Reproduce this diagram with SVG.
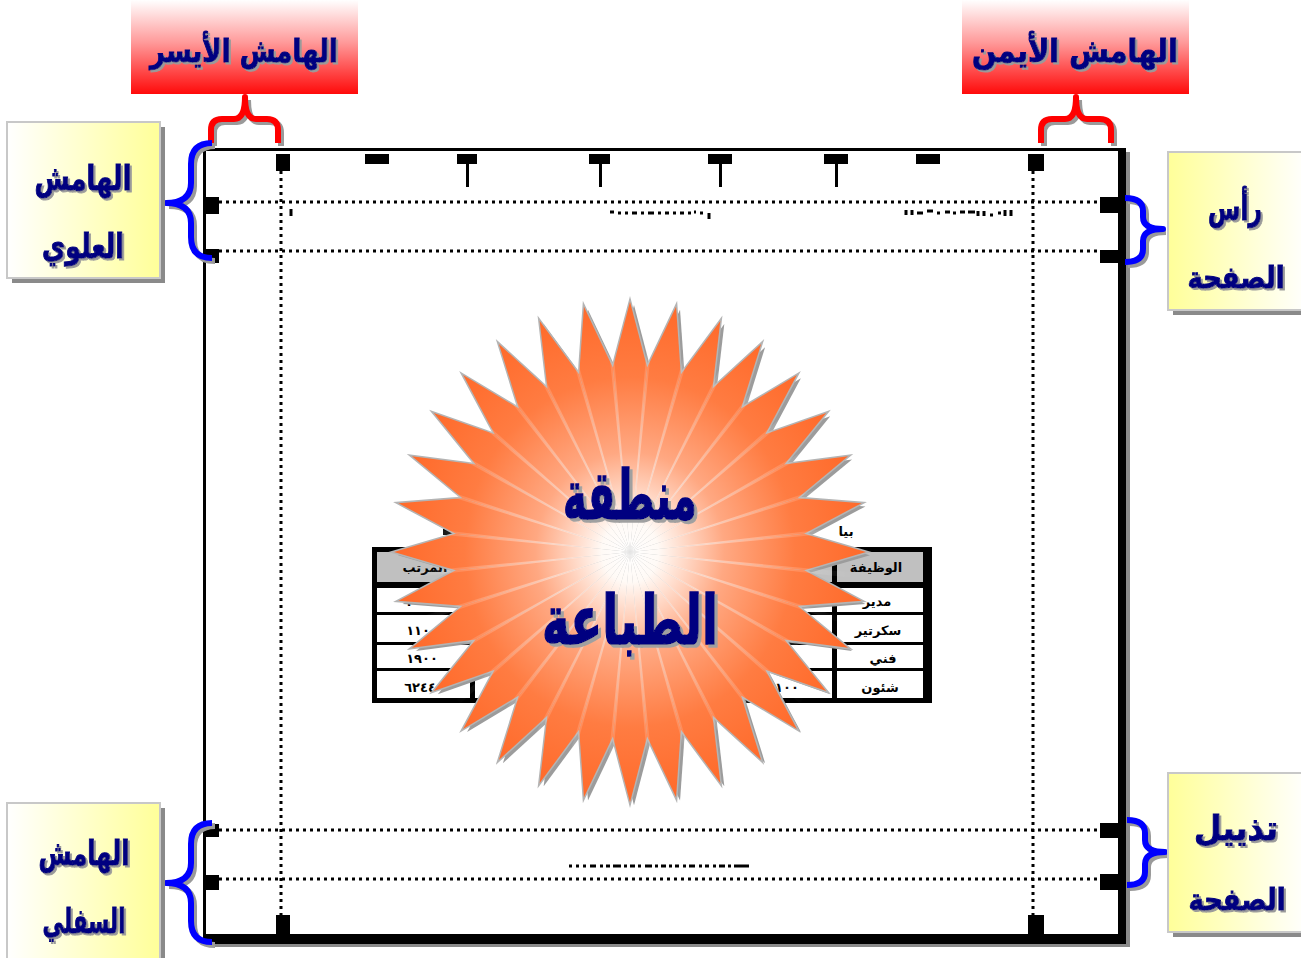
<svg xmlns="http://www.w3.org/2000/svg" xmlns:xlink="http://www.w3.org/1999/xlink" width="1301" height="958" viewBox="0 0 1301 958">
  <style>
    .lbl { font-family: "DejaVu Sans", sans-serif; font-weight: bold; text-anchor: middle; fill: #000080; stroke: #000080; stroke-width: 1; filter: url(#txtShadow); }
    .big { stroke-width: 1.6; filter: url(#bigShadow); }
    .box { stroke: #c8c8c8; stroke-width: 2; }
    .boxshadow { fill: #8a8a8a; }
    .dots { fill: none; stroke: #000; stroke-width: 3; stroke-dasharray: 3 4; }
    .frag { fill: none; stroke: #000; stroke-width: 3; }
    .mark { fill: #000; }
    .brace { fill: none; stroke-width: 6; stroke-linecap: butt; stroke-linejoin: round; }
    .brace-shadow { fill: none; stroke: #9a9a9a; stroke-width: 6; }
    .cell { font-family: "DejaVu Sans", sans-serif; font-weight: bold; font-size: 13px; fill: #000; text-anchor: middle; }
  </style>
  <defs>
    <filter id="txtShadow" x="-25%" y="-30%" width="150%" height="170%">
      <feOffset in="SourceAlpha" dx="2" dy="2" result="off"/>
      <feFlood flood-color="#9a9a9a"/>
      <feComposite in2="off" operator="in" result="shade"/>
      <feMerge><feMergeNode in="shade"/><feMergeNode in="SourceGraphic"/></feMerge>
    </filter>
    <filter id="bigShadow" x="-25%" y="-30%" width="150%" height="170%">
      <feOffset in="SourceAlpha" dx="3" dy="3" result="off"/>
      <feFlood flood-color="#a0a0a0"/>
      <feComposite in2="off" operator="in" result="shade"/>
      <feMerge><feMergeNode in="shade"/><feMergeNode in="SourceGraphic"/></feMerge>
    </filter>
    <linearGradient id="redFade" x1="0" y1="0" x2="0" y2="1">
      <stop offset="0" stop-color="#ffffff"/>
      <stop offset="0.45" stop-color="#ff9a9a"/>
      <stop offset="1" stop-color="#ff0a0a"/>
    </linearGradient>
    <linearGradient id="yellowR" x1="0" y1="0" x2="1" y2="0">
      <stop offset="0" stop-color="#ffffff"/>
      <stop offset="1" stop-color="#ffff99"/>
    </linearGradient>
    <linearGradient id="yellowL" x1="0" y1="0" x2="1" y2="0">
      <stop offset="0" stop-color="#ffff99"/>
      <stop offset="1" stop-color="#ffffff"/>
    </linearGradient>
    <radialGradient id="sunburst" gradientUnits="userSpaceOnUse" cx="0" cy="0" r="236">
      <stop offset="0" stop-color="#ffffff"/>
      <stop offset="0.12" stop-color="#fffaf6"/>
      <stop offset="0.4" stop-color="#ffa882"/>
      <stop offset="0.7" stop-color="#ff7c42"/>
      <stop offset="1" stop-color="#ff6a2a"/>
    </radialGradient>
    <radialGradient id="streakFade" gradientUnits="userSpaceOnUse" cx="0" cy="0" r="225">
      <stop offset="0" stop-color="#ffffff" stop-opacity="0"/>
      <stop offset="0.35" stop-color="#ffffff" stop-opacity="0.4"/>
      <stop offset="1" stop-color="#ffffff" stop-opacity="0"/>
    </radialGradient>
    <!-- one ray of the 32-point burst: centre, left valley, tip, right valley -->
    <path id="ray" d="M0,0 L-17.15,-174.16 L0,-236 L17.15,-174.16 Z"/>
    <path id="streak" d="M0,0 L-2.6,-222 L2.6,-222 Z"/>
    <g id="burst">
      <use xlink:href="#ray" transform="rotate(0)"/>
      <use xlink:href="#ray" transform="rotate(11.25)"/>
      <use xlink:href="#ray" transform="rotate(22.5)"/>
      <use xlink:href="#ray" transform="rotate(33.75)"/>
      <use xlink:href="#ray" transform="rotate(45)"/>
      <use xlink:href="#ray" transform="rotate(56.25)"/>
      <use xlink:href="#ray" transform="rotate(67.5)"/>
      <use xlink:href="#ray" transform="rotate(78.75)"/>
      <use xlink:href="#ray" transform="rotate(90)"/>
      <use xlink:href="#ray" transform="rotate(101.25)"/>
      <use xlink:href="#ray" transform="rotate(112.5)"/>
      <use xlink:href="#ray" transform="rotate(123.75)"/>
      <use xlink:href="#ray" transform="rotate(135)"/>
      <use xlink:href="#ray" transform="rotate(146.25)"/>
      <use xlink:href="#ray" transform="rotate(157.5)"/>
      <use xlink:href="#ray" transform="rotate(168.75)"/>
      <use xlink:href="#ray" transform="rotate(180)"/>
      <use xlink:href="#ray" transform="rotate(191.25)"/>
      <use xlink:href="#ray" transform="rotate(202.5)"/>
      <use xlink:href="#ray" transform="rotate(213.75)"/>
      <use xlink:href="#ray" transform="rotate(225)"/>
      <use xlink:href="#ray" transform="rotate(236.25)"/>
      <use xlink:href="#ray" transform="rotate(247.5)"/>
      <use xlink:href="#ray" transform="rotate(258.75)"/>
      <use xlink:href="#ray" transform="rotate(270)"/>
      <use xlink:href="#ray" transform="rotate(281.25)"/>
      <use xlink:href="#ray" transform="rotate(292.5)"/>
      <use xlink:href="#ray" transform="rotate(303.75)"/>
      <use xlink:href="#ray" transform="rotate(315)"/>
      <use xlink:href="#ray" transform="rotate(326.25)"/>
      <use xlink:href="#ray" transform="rotate(337.5)"/>
      <use xlink:href="#ray" transform="rotate(348.75)"/>
    </g>
    <g id="streaks">
      <use xlink:href="#streak" transform="rotate(0)"/>
      <use xlink:href="#streak" transform="rotate(11.25)"/>
      <use xlink:href="#streak" transform="rotate(22.5)"/>
      <use xlink:href="#streak" transform="rotate(33.75)"/>
      <use xlink:href="#streak" transform="rotate(45)"/>
      <use xlink:href="#streak" transform="rotate(56.25)"/>
      <use xlink:href="#streak" transform="rotate(67.5)"/>
      <use xlink:href="#streak" transform="rotate(78.75)"/>
      <use xlink:href="#streak" transform="rotate(90)"/>
      <use xlink:href="#streak" transform="rotate(101.25)"/>
      <use xlink:href="#streak" transform="rotate(112.5)"/>
      <use xlink:href="#streak" transform="rotate(123.75)"/>
      <use xlink:href="#streak" transform="rotate(135)"/>
      <use xlink:href="#streak" transform="rotate(146.25)"/>
      <use xlink:href="#streak" transform="rotate(157.5)"/>
      <use xlink:href="#streak" transform="rotate(168.75)"/>
      <use xlink:href="#streak" transform="rotate(180)"/>
      <use xlink:href="#streak" transform="rotate(191.25)"/>
      <use xlink:href="#streak" transform="rotate(202.5)"/>
      <use xlink:href="#streak" transform="rotate(213.75)"/>
      <use xlink:href="#streak" transform="rotate(225)"/>
      <use xlink:href="#streak" transform="rotate(236.25)"/>
      <use xlink:href="#streak" transform="rotate(247.5)"/>
      <use xlink:href="#streak" transform="rotate(258.75)"/>
      <use xlink:href="#streak" transform="rotate(270)"/>
      <use xlink:href="#streak" transform="rotate(281.25)"/>
      <use xlink:href="#streak" transform="rotate(292.5)"/>
      <use xlink:href="#streak" transform="rotate(303.75)"/>
      <use xlink:href="#streak" transform="rotate(315)"/>
      <use xlink:href="#streak" transform="rotate(326.25)"/>
      <use xlink:href="#streak" transform="rotate(337.5)"/>
      <use xlink:href="#streak" transform="rotate(348.75)"/>
    </g>
  </defs>

  <rect width="1301" height="958" fill="#ffffff"/>

  <!-- page sheet -->
  <g id="page">
    <rect x="1126" y="152" width="4" height="795" fill="#8a8a8a"/>
    <rect x="207" y="944" width="923" height="3" fill="#8a8a8a"/>
    <rect x="204" y="149" width="918" height="790" fill="#ffffff"/>
    <rect x="203" y="148" width="918" height="3" fill="#000"/>
    <rect x="203" y="148" width="3" height="796" fill="#000"/>
    <rect x="1118" y="148" width="8" height="796" fill="#000"/>
    <rect x="203" y="934" width="923" height="10" fill="#000"/>

    <!-- margin guides -->
    <line class="dots" x1="219" y1="202" x2="1100" y2="202"/>
    <line class="dots" x1="219" y1="251" x2="1100" y2="251"/>
    <line class="dots" x1="219" y1="830" x2="1100" y2="830"/>
    <line class="dots" x1="219" y1="879" x2="1100" y2="879"/>
    <line class="dots" x1="281" y1="171" x2="281" y2="915"/>
    <line class="dots" x1="1033" y1="171" x2="1033" y2="915"/>

    <!-- ruler ticks -->
    <rect class="mark" x="276" y="154" width="14" height="17"/>
    <rect class="mark" x="1028" y="154" width="16" height="17"/>
    <rect class="mark" x="365" y="154" width="24" height="10"/>
    <rect class="mark" x="916" y="154" width="24" height="10"/>
    <rect class="mark" x="457" y="154" width="20" height="10"/>
    <rect class="mark" x="466" y="163" width="3" height="24"/>
    <rect class="mark" x="589" y="154" width="21" height="10"/>
    <rect class="mark" x="599" y="163" width="3" height="24"/>
    <rect class="mark" x="708" y="154" width="24" height="10"/>
    <rect class="mark" x="719" y="163" width="3" height="24"/>
    <rect class="mark" x="824" y="154" width="24" height="10"/>
    <rect class="mark" x="835" y="163" width="3" height="24"/>

    <!-- edge handles -->
    <rect class="mark" x="205" y="197" width="14" height="17"/>
    <rect class="mark" x="205" y="249" width="14" height="14"/>
    <rect class="mark" x="205" y="824" width="14" height="13"/>
    <rect class="mark" x="205" y="875" width="14" height="15"/>
    <rect class="mark" x="1100" y="197" width="18" height="16"/>
    <rect class="mark" x="1100" y="250" width="18" height="13"/>
    <rect class="mark" x="1100" y="823" width="18" height="15"/>
    <rect class="mark" x="1100" y="874" width="18" height="16"/>
    <rect class="mark" x="276" y="915" width="14" height="19"/>
    <rect class="mark" x="1028" y="915" width="16" height="19"/>

    <!-- header / footer placeholders -->
    <line class="frag" x1="291" y1="209" x2="291" y2="216"/>
    <path class="frag" d="M610,212 h4 M618,213 h3 M625,213 h3 M632,213 h5 M641,213 h3 M648,213 h6 M658,213 h3 M665,213 h4 M673,213 h3 M680,213 h4 M688,213 h3 M694,212 h2 M700,213 h3 M709,213 v6"/>
    <path class="frag" d="M906,210 v5 M912,210 v5 M917,213 h6 M927,211 h6 M937,213 h3 M945,212 h5 M953,213 h3 M960,212 h5 M968,212 h7 M978,211 v5 M984,211 v5 M990,215 h3 M998,213 h3 M1005,210 v6 M1011,210 v6"/>
    <path class="frag" d="M569,866 h3 M576,866 h3 M583,866 h3 M590,866 h6 M600,866 h3 M606,866 h4 M613,866 h8 M624,866 h3 M630,866 h5 M638,866 h3 M645,866 h7 M655,866 h3 M661,866 h5 M669,866 h3 M675,866 h4 M683,866 h3 M689,866 h6 M699,866 h3 M705,866 h4 M713,866 h3 M719,866 h6 M728,866 h3 M734,866 h15"/>
  </g>

  <!-- data table printed inside the page body -->
  <g id="table">
    <rect x="443" y="529" width="14" height="6" fill="#000"/>
    <text class="cell" x="846" y="536">بيا</text>
    <rect x="372" y="547" width="560" height="156" fill="#000"/>
    <rect x="377" y="552" width="546" height="146" fill="#ffffff"/>
    <rect x="377" y="552" width="546" height="30" fill="#c0c0c0"/>
    <rect x="377" y="582" width="546" height="6" fill="#000"/>
    <rect x="377" y="612" width="546" height="3" fill="#000"/>
    <rect x="377" y="642" width="546" height="3" fill="#000"/>
    <rect x="377" y="668" width="546" height="3" fill="#000"/>
    <rect x="470" y="552" width="5" height="146" fill="#000"/>
    <rect x="832" y="552" width="5" height="146" fill="#000"/>
    <rect x="923" y="547" width="9" height="156" fill="#000"/>
    <text class="cell" x="876" y="572">الوظيفة</text>
    <text class="cell" x="877" y="606">مدير</text>
    <text class="cell" x="878" y="635">سكرتير</text>
    <text class="cell" x="883" y="663">فني</text>
    <text class="cell" x="880" y="692">شئون</text>
    <text class="cell" x="425" y="572">المرتب</text>
    <text class="cell" x="422" y="606">٣٠٠٠</text>
    <text class="cell" x="422" y="635">١١٠٠</text>
    <text class="cell" x="422" y="663">١٩٠٠</text>
    <text class="cell" x="420" y="692">٦٢٤٤</text>
    <text class="cell" x="787" y="692">١٠٠</text>
  </g>

  <!-- printable area burst -->
  <g id="print-area">
    <g transform="translate(630,552) scale(1,1.06)">
      <use xlink:href="#burst" fill="#9c9c9c" transform="translate(4,3)"/>
      <use xlink:href="#burst" fill="none" stroke="#b4b4b4" stroke-width="3"/>
      <use xlink:href="#burst" fill="url(#sunburst)"/>
      <use xlink:href="#streaks" fill="url(#streakFade)" transform="rotate(5.625)"/>
    </g>
    <text class="lbl big" x="630" y="519" font-size="68" textLength="134" lengthAdjust="spacingAndGlyphs">منطقة</text>
    <text class="lbl big" x="630" y="644" font-size="68" textLength="176" lengthAdjust="spacingAndGlyphs">الطباعة</text>
  </g>

  <!-- callout braces -->
  <g id="connectors">
    <path class="brace-shadow" transform="translate(3,3)" d="M211,143 V130 Q211,119 222,119 H234 Q245,119 245,97 Q245,119 256,119 H267 Q278,119 278,130 V143"/>
    <path class="brace" stroke="#ff0000" d="M211,143 V130 Q211,119 222,119 H234 Q245,119 245,97 Q245,119 256,119 H267 Q278,119 278,130 V143"/>
    <path class="brace-shadow" transform="translate(3,3)" d="M1041,143 V130 Q1041,119 1052,119 H1065 Q1076,119 1076,97 Q1076,119 1087,119 H1100 Q1111,119 1111,130 V143"/>
    <path class="brace" stroke="#ff0000" d="M1041,143 V130 Q1041,119 1052,119 H1065 Q1076,119 1076,97 Q1076,119 1087,119 H1100 Q1111,119 1111,130 V143"/>
    <path class="brace-shadow" transform="translate(3,3)" d="M212,143 Q191,143 191,164 V183 Q191,203 166,203 Q191,203 191,223 V237 Q191,258 212,258"/>
    <path class="brace" stroke="#0000ff" d="M212,143 Q191,143 191,164 V183 Q191,203 166,203 Q191,203 191,223 V237 Q191,258 212,258"/>
    <path class="brace-shadow" transform="translate(3,3)" d="M212,823 Q191,823 191,844 V863 Q191,883 166,883 Q191,883 191,903 V921 Q191,942 212,942"/>
    <path class="brace" stroke="#0000ff" d="M212,823 Q191,823 191,844 V863 Q191,883 166,883 Q191,883 191,903 V921 Q191,942 212,942"/>
    <path class="brace-shadow" transform="translate(3,3)" d="M1125,198 Q1143,198 1143,211 V217 Q1143,229 1163,229 Q1143,229 1143,241 V249 Q1143,262 1125,262"/>
    <path class="brace" stroke="#0000ff" d="M1125,198 Q1143,198 1143,211 V217 Q1143,229 1163,229 Q1143,229 1143,241 V249 Q1143,262 1125,262"/>
    <path class="brace-shadow" transform="translate(3,3)" d="M1127,820 Q1145,820 1145,833 V840 Q1145,852 1165,852 Q1145,852 1145,864 V872 Q1145,885 1127,885"/>
    <path class="brace" stroke="#0000ff" d="M1127,820 Q1145,820 1145,833 V840 Q1145,852 1165,852 Q1145,852 1145,864 V872 Q1145,885 1127,885"/>
  </g>

  <!-- margin labels -->
  <g id="label-left-margin">
    <rect x="131" y="0" width="227" height="94" fill="url(#redFade)"/>
    <text class="lbl" x="244" y="62" font-size="32" textLength="188" lengthAdjust="spacingAndGlyphs">الهامش الأيسر</text>
  </g>
  <g id="label-right-margin">
    <rect x="962" y="0" width="227" height="94" fill="url(#redFade)"/>
    <text class="lbl" x="1075" y="62" font-size="32" textLength="206" lengthAdjust="spacingAndGlyphs">الهامش الأيمن</text>
  </g>
  <g id="label-top-margin">
    <rect class="boxshadow" x="12" y="127" width="153" height="156"/>
    <rect class="box" x="7" y="122" width="153" height="156" fill="url(#yellowR)"/>
    <text class="lbl" x="83" y="190" font-size="34" textLength="97" lengthAdjust="spacingAndGlyphs">الهامش</text>
    <text class="lbl" x="83" y="258" font-size="34" textLength="82" lengthAdjust="spacingAndGlyphs">العلوي</text>
  </g>
  <g id="label-header">
    <rect class="boxshadow" x="1173" y="157" width="133" height="158"/>
    <rect class="box" x="1168" y="152" width="140" height="158" fill="url(#yellowL)"/>
    <text class="lbl" x="1235" y="220" font-size="34" textLength="54" lengthAdjust="spacingAndGlyphs">رأس</text>
    <text class="lbl" x="1236" y="288" font-size="30" textLength="97" lengthAdjust="spacingAndGlyphs">الصفحة</text>
  </g>
  <g id="label-bottom-margin">
    <rect class="boxshadow" x="12" y="808" width="153" height="160"/>
    <rect class="box" x="7" y="803" width="153" height="165" fill="url(#yellowR)"/>
    <text class="lbl" x="84" y="865" font-size="34" textLength="91" lengthAdjust="spacingAndGlyphs">الهامش</text>
    <text class="lbl" x="84" y="933" font-size="34" textLength="83" lengthAdjust="spacingAndGlyphs">السفلي</text>
  </g>
  <g id="label-footer">
    <rect class="boxshadow" x="1173" y="778" width="133" height="159"/>
    <rect class="box" x="1168" y="773" width="140" height="159" fill="url(#yellowL)"/>
    <text class="lbl" x="1236" y="840" font-size="34" textLength="84" lengthAdjust="spacingAndGlyphs">تذييل</text>
    <text class="lbl" x="1237" y="910" font-size="30" textLength="97" lengthAdjust="spacingAndGlyphs">الصفحة</text>
  </g>
</svg>
